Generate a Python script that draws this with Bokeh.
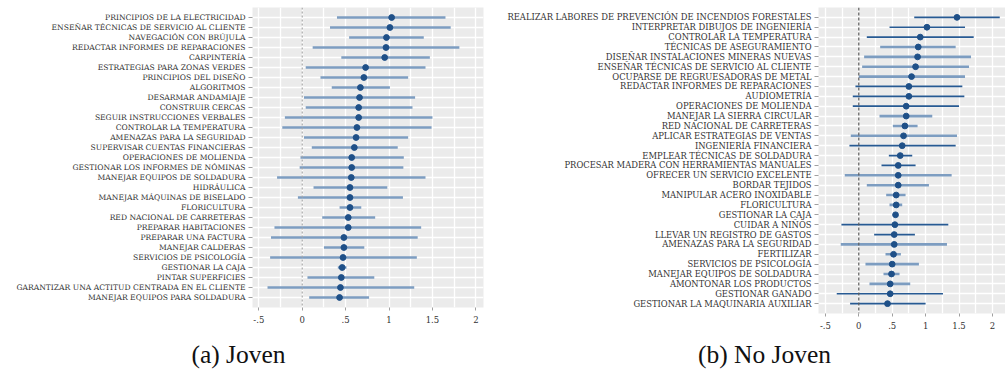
from bokeh.plotting import figure
from bokeh.models import ColumnDataSource, FixedTicker, Span, Label
from bokeh.layouts import row, column
from bokeh.embed import file_html
from bokeh.resources import INLINE

# ---- Panel (a): Joven ----
joven_labels = [
    "PRINCIPIOS DE LA ELECTRICIDAD",
    "ENSEÑAR TÉCNICAS DE SERVICIO AL CLIENTE",
    "NAVEGACIÓN CON BRÚJULA",
    "REDACTAR INFORMES DE REPARACIONES",
    "CARPINTERÍA",
    "ESTRATEGIAS PARA ZONAS VERDES",
    "PRINCIPIOS DEL DISEÑO",
    "ALGORITMOS",
    "DESARMAR ANDAMIAJE",
    "CONSTRUIR CERCAS",
    "SEGUIR INSTRUCCIONES VERBALES",
    "CONTROLAR LA TEMPERATURA",
    "AMENAZAS PARA LA SEGURIDAD",
    "SUPERVISAR CUENTAS FINANCIERAS",
    "OPERACIONES DE MOLIENDA",
    "GESTIONAR LOS INFORMES DE NÓMINAS",
    "MANEJAR EQUIPOS DE SOLDADURA",
    "HIDRÁULICA",
    "MANEJAR MÁQUINAS DE BISELADO",
    "FLORICULTURA",
    "RED NACIONAL DE CARRETERAS",
    "PREPARAR HABITACIONES",
    "PREPARAR UNA FACTURA",
    "MANEJAR CALDERAS",
    "SERVICIOS DE PSICOLOGÍA",
    "GESTIONAR LA CAJA",
    "PINTAR SUPERFICIES",
    "GARANTIZAR UNA ACTITUD CENTRADA EN EL CLIENTE",
    "MANEJAR EQUIPOS PARA SOLDADURA",
]
joven_coef = [1.03, 1.01, 0.97, 0.965, 0.95, 0.73, 0.71, 0.67, 0.66, 0.65,
              0.65, 0.63, 0.62, 0.60, 0.57, 0.57, 0.565, 0.55, 0.55, 0.55,
              0.53, 0.53, 0.48, 0.48, 0.47, 0.46, 0.45, 0.44, 0.43]
joven_lo = [0.40, 0.32, 0.54, 0.12, 0.45, 0.04, 0.21, 0.34, 0.02, 0.04,
            -0.20, -0.23, 0.02, 0.11, -0.02, -0.03, -0.29, 0.13, -0.05, 0.43,
            0.23, -0.32, -0.36, 0.25, -0.37, 0.41, 0.06, -0.40, 0.08]
joven_hi = [1.65, 1.71, 1.40, 1.81, 1.47, 1.42, 1.22, 1.01, 1.30, 1.27,
            1.50, 1.49, 1.22, 1.10, 1.17, 1.165, 1.42, 0.98, 1.16, 0.68,
            0.84, 1.37, 1.33, 0.715, 1.32, 0.51, 0.83, 1.29, 0.77]
joven_dark = [0] * 29

# ---- Panel (b): No Joven ----
nojoven_labels = [
    "REALIZAR LABORES DE PREVENCIÓN DE INCENDIOS FORESTALES",
    "INTERPRETAR DIBUJOS DE INGENIERÍA",
    "CONTROLAR LA TEMPERATURA",
    "TÉCNICAS DE ASEGURAMIENTO",
    "DISEÑAR INSTALACIONES MINERAS NUEVAS",
    "ENSEÑAR TÉCNICAS DE SERVICIO AL CLIENTE",
    "OCUPARSE DE REGRUESADORAS DE METAL",
    "REDACTAR INFORMES DE REPARACIONES",
    "AUDIOMETRÍA",
    "OPERACIONES DE MOLIENDA",
    "MANEJAR LA SIERRA CIRCULAR",
    "RED NACIONAL DE CARRETERAS",
    "APLICAR ESTRATEGIAS DE VENTAS",
    "INGENIERÍA FINANCIERA",
    "EMPLEAR TÉCNICAS DE SOLDADURA",
    "PROCESAR MADERA CON HERRAMIENTAS MANUALES",
    "OFRECER UN SERVICIO EXCELENTE",
    "BORDAR TEJIDOS",
    "MANIPULAR ACERO INOXIDABLE",
    "FLORICULTURA",
    "GESTIONAR LA CAJA",
    "CUIDAR A NIÑOS",
    "LLEVAR UN REGISTRO DE GASTOS",
    "AMENAZAS PARA LA SEGURIDAD",
    "FERTILIZAR",
    "SERVICIOS DE PSICOLOGÍA",
    "MANEJAR EQUIPOS DE SOLDADURA",
    "AMONTONAR LOS PRODUCTOS",
    "GESTIONAR GANADO",
    "GESTIONAR LA MAQUINARIA AUXILIAR",
]
nojoven_coef = [1.47, 1.02, 0.92, 0.89, 0.88, 0.85, 0.79, 0.75, 0.75, 0.71,
                0.71, 0.69, 0.67, 0.65, 0.62, 0.59, 0.59, 0.59, 0.56, 0.56,
                0.55, 0.54, 0.53, 0.53, 0.52, 0.50, 0.49, 0.47, 0.47, 0.43]
nojoven_lo = [0.83, 0.46, 0.12, 0.32, 0.08, 0.05, 0.00, -0.05, -0.09, -0.09,
              0.31, 0.51, -0.12, -0.14, 0.45, 0.34, -0.21, 0.12, 0.41, 0.46,
              0.52, -0.26, 0.23, -0.27, 0.40, 0.10, 0.37, 0.16, -0.33, -0.13]
nojoven_hi = [2.11, 1.59, 1.72, 1.45, 1.68, 1.65, 1.59, 1.55, 1.58, 1.50,
              1.10, 0.88, 1.47, 1.45, 0.80, 0.85, 1.39, 1.05, 0.70, 0.65,
              0.58, 1.34, 0.84, 1.32, 0.63, 0.90, 0.61, 0.77, 1.26, 1.00]
nojoven_dark = [1, 1, 1, 0, 0, 0, 0, 1, 1, 1,
                0, 0, 0, 1, 1, 1, 0, 0, 0, 0,
                1, 1, 1, 0, 0, 0, 0, 0, 1, 1]

x_ticks = [-0.5, 0, 0.5, 1, 1.5, 2]
x_tick_text = ["-.5", "0", ".5", "1", "1.5", "2"]

panel_titles = ["(a) Joven", "(b) No Joven"]

LIGHT = "#7d9dc1"
DARK = "#275a93"
DOT = "#1f5088"
LABEL_FONT = "DejaVu Serif"


def coef_panel(labels, coef, lo, hi, dark, x_range, frame_w, frame_h,
               border_left, border_right, border_bottom, zero_color, zero_dash,
               label_size):
    n = len(labels)
    ys = [n - i for i in range(n)]
    src = ColumnDataSource(dict(
        y=ys, coef=coef, lo=lo, hi=hi,
        color=[DARK if d else LIGHT for d in dark],
        width=[1.7 if d else 2.6 for d in dark],
    ))
    p = figure(frame_width=frame_w, frame_height=frame_h,
               x_range=x_range, y_range=(0, n + 1),
               output_backend="svg", toolbar_location=None,
               min_border_left=border_left, min_border_right=border_right,
               min_border_top=7, min_border_bottom=border_bottom)
    p.background_fill_color = "#ebebeb"
    p.border_fill_color = "white"
    p.outline_line_color = None

    # grid: white lines every quarter unit and at each row
    p.xgrid.ticker = FixedTicker(ticks=[-0.5 + 0.25 * k for k in range(12)])
    p.ygrid.ticker = FixedTicker(ticks=ys)
    p.xgrid.grid_line_color = "white"
    p.ygrid.grid_line_color = "white"
    p.xgrid.grid_line_width = 1.3
    p.ygrid.grid_line_width = 1.3

    p.add_layout(Span(location=0, dimension="height", line_color=zero_color,
                      line_dash=zero_dash, line_width=1.2))

    p.segment(x0="lo", y0="y", x1="hi", y1="y", source=src,
              line_color="color", line_width="width")
    p.scatter(x="coef", y="y", source=src, size=5.8,
              fill_color=DOT, line_color=DOT)

    p.yaxis.ticker = FixedTicker(ticks=ys)
    p.yaxis.major_label_overrides = {y: lab for y, lab in zip(ys, labels)}
    p.xaxis.ticker = FixedTicker(ticks=x_ticks)
    p.xaxis.major_label_overrides = {t: s for t, s in zip(x_ticks, x_tick_text)}

    for ax in (p.xaxis, p.yaxis):
        ax.axis_line_color = None
        ax.major_tick_line_color = "#a0a0a0"
        ax.major_tick_in = 0
        ax.minor_tick_line_color = None
        ax.major_label_text_font = LABEL_FONT
        ax.major_label_text_color = "#333333"
    p.yaxis.major_tick_out = 4
    p.yaxis.major_label_text_font_size = label_size
    p.yaxis.major_label_standoff = 3
    p.xaxis.major_tick_out = 3
    p.xaxis.major_label_text_font_size = "8.5px"
    p.xaxis.major_label_standoff = 5
    return p


p1 = coef_panel(joven_labels, joven_coef, joven_lo, joven_hi, joven_dark,
                (-0.573, 2.088), 231, 300, 252, 7, 28, "#a8a8a8", "2 2", "7.6px")
p2 = coef_panel(nojoven_labels, nojoven_coef, nojoven_lo, nojoven_hi, nojoven_dark,
                (-0.603, 2.196), 187, 306, 328, 0, 22, "#5a5a5a", "3 2", "8.4px")

# caption strip under both panels, laid out in pixel coordinates
cap = figure(width=1005, height=56, x_range=(0, 1005), y_range=(56, 0),
             output_backend="svg", toolbar_location=None,
             min_border=0, outline_line_color=None)
cap.axis.visible = False
cap.grid.visible = False
cap.background_fill_color = "white"
cap.border_fill_color = "white"
for title, cx in zip(panel_titles, [238, 764]):
    cap.add_layout(Label(x=cx, y=19, text=title, text_align="center",
                         text_baseline="middle", text_font="Liberation Serif",
                         text_font_size="25.5px", text_color="#111111"))

layout = column(row(p1, p2, spacing=0), cap, spacing=0)

open("out.html", "w").write(file_html(layout, INLINE))
